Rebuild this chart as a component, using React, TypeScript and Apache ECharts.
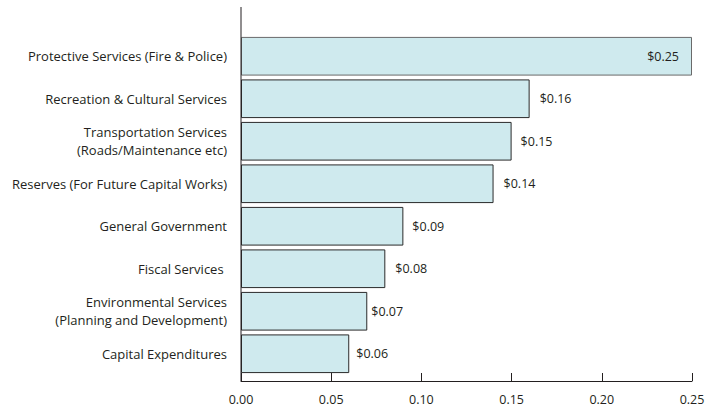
import React, { useEffect, useRef } from "react";
import * as echarts from "echarts";

const categories = [
  "Protective Services (Fire & Police)",
  "Recreation & Cultural Services",
  "Transportation Services\n(Roads/Maintenance etc)",
  "Reserves (For Future Capital Works)",
  "General Government",
  "Fiscal Services ",
  "Environmental Services\n(Planning and Development)",
  "Capital Expenditures",
];
const values = [0.25, 0.16, 0.15, 0.14, 0.09, 0.08, 0.07, 0.06];
const xTicks = [0, 0.05, 0.1, 0.15, 0.2, 0.25];

const FONT = "Open Sans";
const TEXT = "#231f20";

export default function App() {
  const ref = useRef<HTMLDivElement>(null);
  useEffect(() => {
    if (!ref.current) return;
    const chart = echarts.init(ref.current, null, { renderer: "svg" });
    const labelGap = [13, 10, 9, 10, 9, 10, 4, 7];
    chart.setOption({
      animation: false,
      backgroundColor: "#ffffff",
      grid: { left: 241, right: 27, top: 35, bottom: 31, containLabel: false },
      xAxis: {
        type: "value",
        min: xTicks[0],
        max: xTicks[xTicks.length - 1],
        interval: 0.05,
        offset: 6,
        axisLine: { show: true, lineStyle: { color: TEXT, width: 1 } },
        axisTick: { show: true, inside: true, length: 8, lineStyle: { color: TEXT, width: 1 } },
        axisLabel: {
          color: TEXT,
          fontFamily: FONT,
          fontSize: 12.5,
          lineHeight: 12,
          margin: 12,
          formatter: (v: number) => v.toFixed(2),
        },
        splitLine: { show: false },
      },
      yAxis: {
        type: "category",
        data: categories,
        inverse: true,
        axisLine: { show: false },
        axisTick: { show: false },
        axisLabel: {
          color: TEXT,
          fontFamily: FONT,
          fontSize: 13,
          margin: 14,
          lineHeight: 18,
          align: "right",
        },
      },
      series: [
        {
          type: "bar",
          data: values.map((v, i) => ({
            value: v,
            label:
              i === 0
                ? { position: "insideRight", distance: labelGap[i] }
                : { position: "right", distance: labelGap[i] },
            itemStyle: i === 0 ? { borderColor: "#6a6a6a" } : undefined,
          })),
          barCategoryGap: "9%",
          itemStyle: { color: "#cfeaee", borderColor: "#2a2a2a", borderWidth: 1 },
          label: {
            show: true,
            color: TEXT,
            fontFamily: FONT,
            fontSize: 12.5,
            formatter: (p: any) => "$" + Number(p.value).toFixed(2),
          },
        },
      ],
      graphic: [
        {
          type: "line",
          shape: { x1: 241, y1: 7, x2: 241, y2: 381 },
          style: { stroke: TEXT, lineWidth: 1 },
          z: 100,
        },
      ],
    });
    return () => chart.dispose();
  }, []);
  return (
    <div
      ref={ref}
      style={{ position: "fixed", left: 0, top: 0, width: 719, height: 406 }}
    />
  );
}
